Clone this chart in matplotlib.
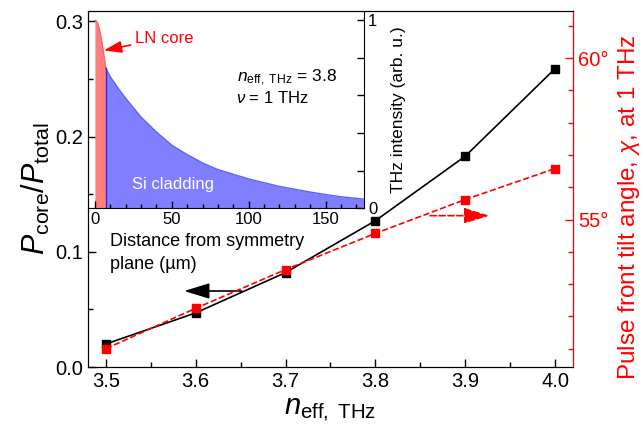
import numpy as np
import matplotlib
matplotlib.use("Agg")
import matplotlib.pyplot as plt
from matplotlib.ticker import MultipleLocator

plt.rcParams['font.family'] = ['Liberation Sans', 'DejaVu Sans']
plt.rcParams['mathtext.fontset'] = 'custom'
plt.rcParams['mathtext.rm'] = 'Liberation Sans'
plt.rcParams['mathtext.it'] = 'Liberation Sans:italic'

# donnees
n_eff = [3.5, 3.6, 3.7, 3.8, 3.9, 4.0]
p_ratio = [0.020, 0.047, 0.082, 0.127, 0.183, 0.259]
tilt_deg = [51.0, 52.25, 53.45, 54.57, 55.62, 56.58]

# profil d'intensite THz (inset)
core_x = [0, 0.5, 1, 1.5, 2, 2.5, 3, 3.5, 4, 4.5, 5, 5.5, 6, 6.5, 7.1]
core_y = [1.0, 0.999, 0.995, 0.99, 0.978, 0.965, 0.95, 0.93, 0.91, 0.885,
          0.86, 0.835, 0.805, 0.775, 0.745]
clad_x = [7.1, 10, 15, 20, 25, 30, 35, 40, 45, 50, 60, 70, 80, 90, 100,
          110, 120, 130, 140, 150, 160, 175]
clad_y = [0.745, 0.70, 0.64, 0.585, 0.535, 0.485, 0.445, 0.405, 0.37, 0.335,
          0.285, 0.24, 0.205, 0.18, 0.155, 0.135, 0.115, 0.10, 0.085, 0.072,
          0.06, 0.047]

red = '#FF0000'

fig = plt.figure(figsize=(6.44, 4.44), dpi=100)
ax = fig.add_axes([0.1366, 0.1734, 0.7531, 0.8016])
ax2 = ax.twinx()

ax.plot(n_eff, p_ratio, '-', color='black', lw=1.2, marker='s', ms=6, zorder=3)
ax2.plot(n_eff, tilt_deg, '--', color=red, lw=1.2, marker='s', ms=6, zorder=3)

ax.set_xlim(3.48, 4.02)
ax.set_ylim(0, 0.309)
ax2.set_ylim(50.43, 61.46)

ax.xaxis.set_minor_locator(MultipleLocator(0.05))
ax.yaxis.set_minor_locator(MultipleLocator(0.05))
ax.set_xticks([3.5, 3.6, 3.7, 3.8, 3.9, 4.0])
ax.set_xticklabels(['3.5', '3.6', '3.7', '3.8', '3.9', '4.0'])
ax.set_yticks([0.0, 0.1, 0.2, 0.3])
ax.set_yticklabels(['0.0', '0.1', '0.2', '0.3'])
ax.tick_params(which='both', direction='in', labelsize=14.5, top=False, right=False)
ax.tick_params(which='major', length=6, width=1)
ax.tick_params(which='minor', length=3.5, width=1)

ax2.set_yticks([55, 60])
ax2.set_yticklabels(['55°', '60°'])
ax2.yaxis.set_minor_locator(MultipleLocator(1))
ax2.tick_params(which='both', direction='in', colors=red, labelsize=14.5)
ax2.tick_params(which='major', length=6, width=1)
ax2.tick_params(which='minor', length=3.5, width=1)
ax2.spines['right'].set_color(red)

ax.set_xlabel(r'$n_{\mathrm{eff,\ THz}}$', fontsize=21, labelpad=4)
ax.set_ylabel(r'$P_{\mathrm{core}}/P_{\mathrm{total}}$', fontsize=22, labelpad=2)
ax2.set_ylabel(r'Pulse front tilt angle, $\chi$, at 1 THz', fontsize=17.5, color=red)
ax2.yaxis.set_label_coords(1.088, 0.45)

# fleches
ax.annotate('', xy=(3.584, 0.066), xytext=(3.654, 0.066),
            arrowprops=dict(arrowstyle='-|>,head_length=1.3,head_width=0.4',
                            color='black', lw=1.2, mutation_scale=12))
ax2.annotate('', xy=(3.93, 55.12), xytext=(3.858, 55.12),
             arrowprops=dict(arrowstyle='-|>,head_length=1.3,head_width=0.4',
                             color=red, lw=1.2, ls='--', mutation_scale=12))

# inset
ins = fig.add_axes([0.1366, 0.5315, 0.4286, 0.4435], facecolor='none')
ins.fill_between(core_x, core_y, 0, color='#FF7F7F', lw=0)
ins.plot(core_x, core_y, color='#FF6060', lw=1)
ins.fill_between(clad_x, clad_y, 0, color='#7F7FFF', lw=0)
ins.plot(clad_x, clad_y, color='#6060FF', lw=1)
ins.plot([7.1, 7.1], [0, 0.745], color='#3030D0', lw=1)
ins.set_xlim(-4.5, 175)
ins.set_ylim(0, 1.05)
ins.spines['left'].set_visible(False)
ins.spines['top'].set_visible(False)
ins.xaxis.set_minor_locator(MultipleLocator(10))
ins.set_xticks([0, 50, 100, 150])
ins.set_xticklabels(['0', '50', '100', '150'])
ins.yaxis.tick_right()
ins.set_yticks([0, 0.2, 0.4, 0.6, 0.8, 1.0])
ins.set_yticklabels(['0', '', '', '', '', '1'])
ins.tick_params(which='both', direction='in', labelsize=12, pad=3)
ins.tick_params(which='major', length=5, width=1)
ins.tick_params(which='minor', length=3, width=1)
ins.tick_params(axis='y', left=False, right=True, labelleft=False, labelright=True)
ins.yaxis.set_label_position('right')
ins.set_ylabel('THz intensity (arb. u.)', fontsize=12.5, labelpad=10)

ins.text(0.54, 0.66, r'$n_{\mathrm{eff,\ THz}}$' + ' = 3.8', transform=ins.transAxes,
         fontsize=12.5, ha='left', va='center')
ins.text(0.535, 0.56, r'$\nu$' + ' = 1 THz', transform=ins.transAxes,
         fontsize=12, ha='left', va='center')
ins.text(0.16, 0.12, 'Si cladding', transform=ins.transAxes, color='white',
         fontsize=12, ha='left', va='center')
ins.annotate('LN core', xy=(5.8, 0.84), xytext=(26, 0.905), color=red, fontsize=12,
             ha='left', va='center',
             arrowprops=dict(arrowstyle='-|>,head_length=0.9,head_width=0.3',
                             color=red, lw=1.2, mutation_scale=12, shrinkA=1, shrinkB=0))

fig.text(0.171, 0.475, 'Distance from symmetry\nplane (\u00b5m)', fontsize=13,
         ha='left', va='top', linespacing=1.45)

fig.savefig('out.png', dpi=100)
